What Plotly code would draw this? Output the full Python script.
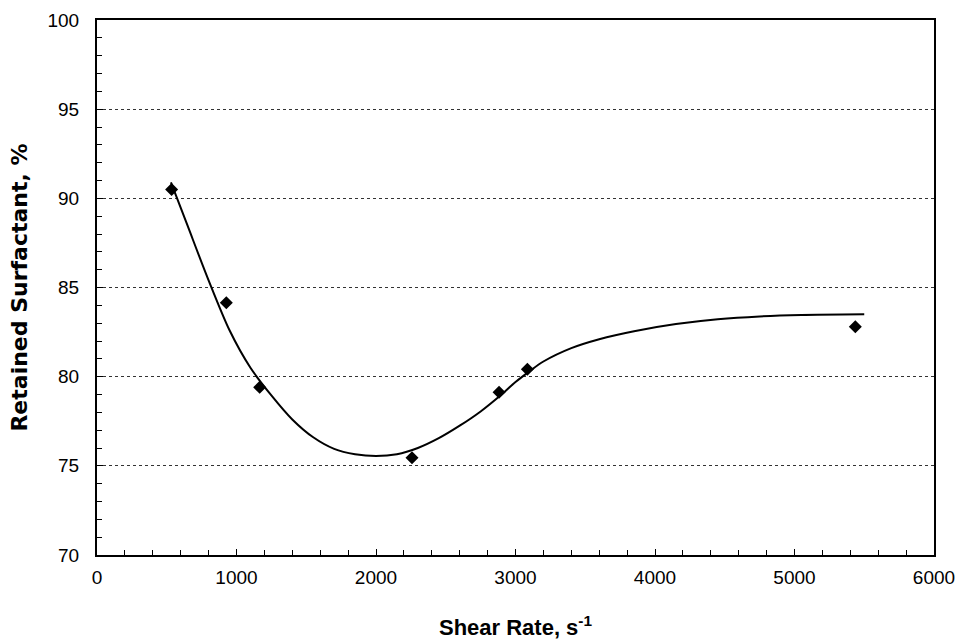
import plotly.graph_objects as go

# Measured data points
shear_rate = [535, 927, 1166, 2258, 2882, 3085, 5436]
retained = [90.5, 84.15, 79.4, 75.46, 79.12, 80.41, 82.8]

# Fitted trend line
fit_x = [530, 650, 800, 950, 1100, 1250, 1400, 1550, 1700, 1850, 2000, 2150, 2300,
         2450, 2600, 2750, 2900, 3000, 3100, 3200, 3400, 3600, 3850, 4150, 4450, 4750, 5050, 5500]
fit_y = [90.9, 88.45, 85.4, 82.6, 80.5, 78.95, 77.6, 76.6, 75.95, 75.65, 75.55, 75.65, 76.0,
         76.55, 77.25, 78.05, 79.0, 79.7, 80.3, 80.85, 81.6, 82.1, 82.55, 82.95, 83.22, 83.38, 83.46, 83.5]

x_ticks = [0, 1000, 2000, 3000, 4000, 5000, 6000]
y_ticks = [70, 75, 80, 85, 90, 95, 100]

fig = go.Figure()
fig.add_trace(go.Scatter(x=fit_x, y=fit_y, mode="lines",
                         line=dict(color="black", width=2, shape="spline", smoothing=0.8),
                         showlegend=False, hoverinfo="skip"))
fig.add_trace(go.Scatter(x=shear_rate, y=retained, mode="markers",
                         marker=dict(symbol="diamond", size=10, color="black"),
                         showlegend=False))

font_family = "Liberation Sans, Arial, sans-serif"
fig.update_layout(
    width=962, height=641,
    margin=dict(l=97, r=28, t=20, b=86),
    paper_bgcolor="white", plot_bgcolor="white",
    font=dict(family=font_family, size=19, color="black"),
    xaxis=dict(
        range=[0, 6000], tickvals=x_ticks, ticktext=[str(v) for v in x_ticks],
        showline=True, linecolor="black", linewidth=2, mirror=True,
        ticks="inside", ticklen=6, tickwidth=1, tickcolor="black",
        minor=dict(dtick=200, ticks="inside", ticklen=5, tickwidth=1, tickcolor="black", showgrid=False),
        showgrid=False, zeroline=False, ticklabelstandoff=4, automargin=False,
        title=dict(text="<b>Shear Rate, s<sup>-1</sup></b>", font=dict(size=22), standoff=33),
        tickfont=dict(size=19),
    ),
    yaxis=dict(
        range=[70, 100], tickvals=y_ticks, ticktext=[str(v) for v in y_ticks],
        showline=True, linecolor="black", linewidth=2, mirror=True,
        ticks="inside", ticklen=6, tickwidth=1, tickcolor="black",
        minor=dict(dtick=1, ticks="inside", ticklen=5, tickwidth=1, tickcolor="black", showgrid=False),
        showgrid=True, gridcolor="#333333", gridwidth=1, griddash="3px,3px",
        zeroline=False, ticklabelstandoff=12, automargin=False,
        title=dict(text="<b>Retained Surfactant, %</b>",
                   font=dict(size=22, family="DejaVu Sans, sans-serif"), standoff=14),
        tickfont=dict(size=19),
    ),
)

fig.write_html("out.html")
